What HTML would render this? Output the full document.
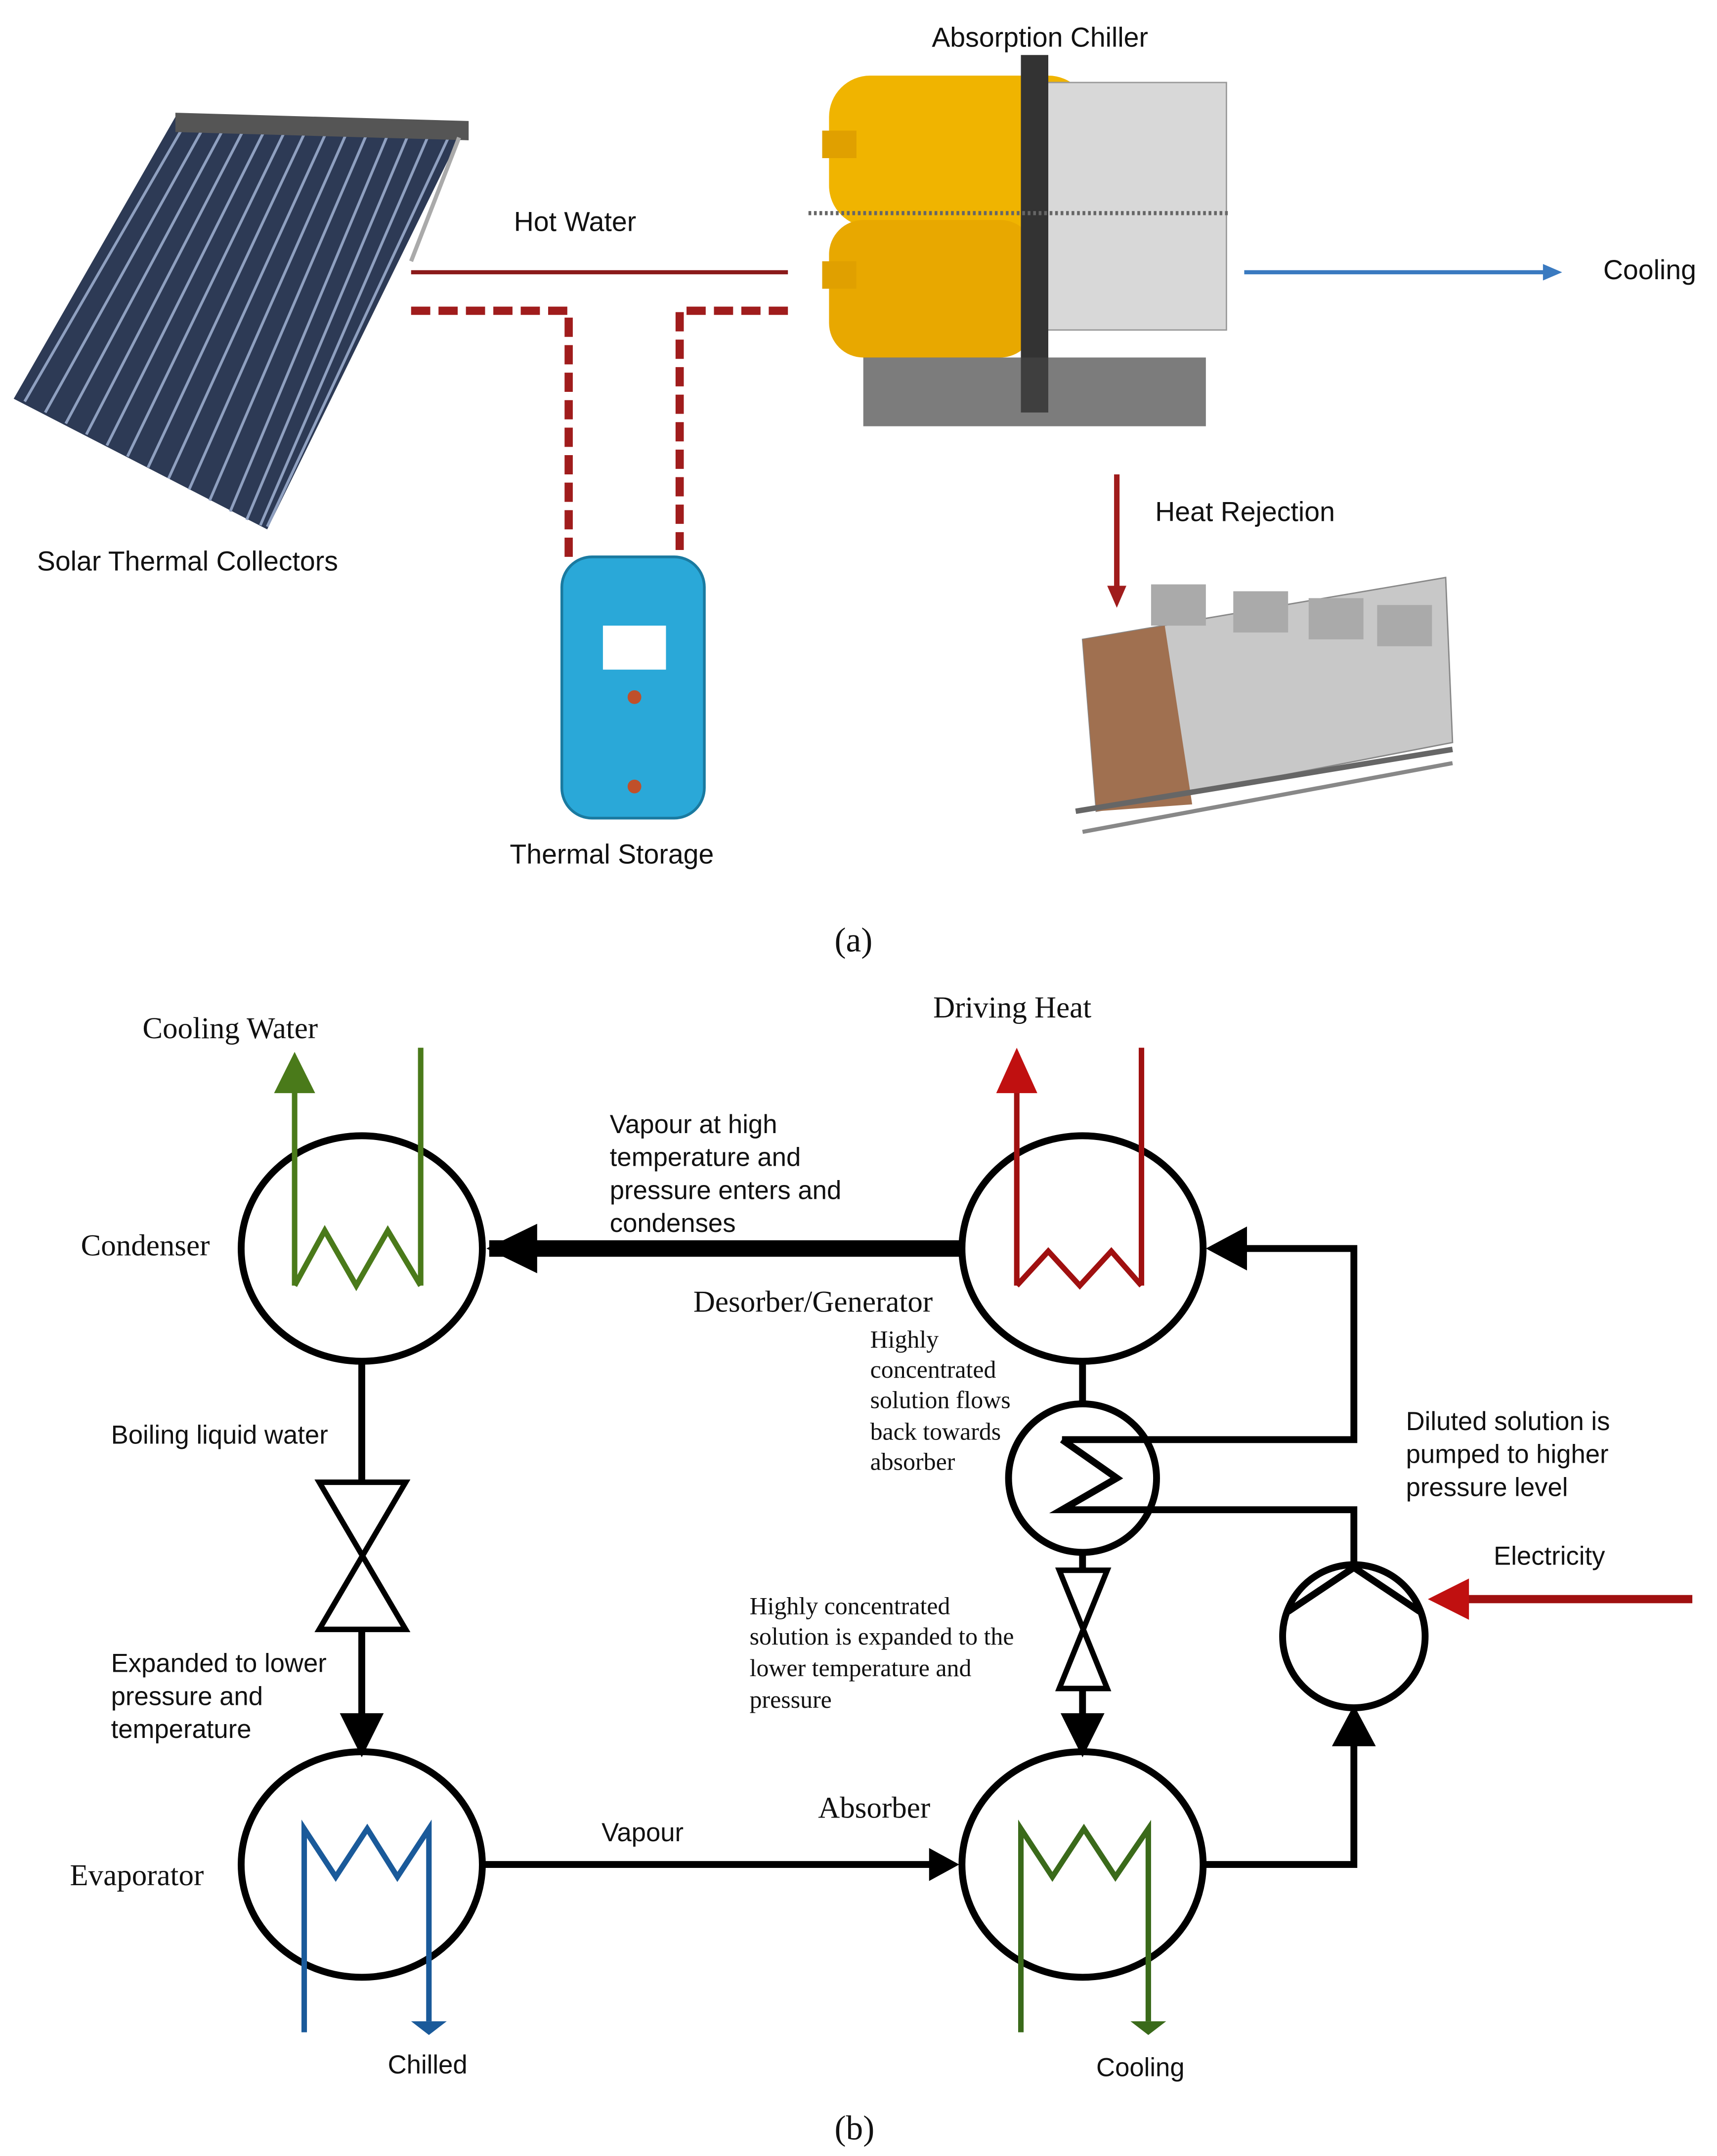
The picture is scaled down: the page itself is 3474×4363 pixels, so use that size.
<!DOCTYPE html>
<html><head><meta charset="utf-8"><style>
html,body{margin:0;padding:0;background:#fff;}
svg{display:block;}
.s{font-family:"Liberation Sans",sans-serif;fill:#111;}
.r{font-family:"Liberation Serif",serif;fill:#111;}
</style></head><body>
<svg width="3474" height="4363" viewBox="0 0 1253 1568" preserveAspectRatio="none" xmlns="http://www.w3.org/2000/svg">
<rect width="1253" height="1568" fill="#fff"/>
<!-- Solar collector -->
<polygon points="128,85 340,90 195,385 10,290" fill="#2d3a55"/>
<g stroke="#8fa0c0" stroke-width="2">
<line x1="135" y1="90" x2="18" y2="292"/><line x1="150" y1="90" x2="33" y2="300"/><line x1="165" y1="90" x2="48" y2="308"/><line x1="180" y1="90" x2="63" y2="316"/><line x1="195" y1="91" x2="78" y2="324"/><line x1="210" y1="91" x2="93" y2="332"/><line x1="225" y1="91" x2="108" y2="340"/><line x1="240" y1="92" x2="123" y2="348"/><line x1="255" y1="92" x2="138" y2="356"/><line x1="270" y1="92" x2="153" y2="364"/><line x1="285" y1="93" x2="168" y2="372"/><line x1="300" y1="93" x2="180" y2="378"/><line x1="315" y1="93" x2="190" y2="382"/><line x1="330" y1="94" x2="195" y2="383"/>
</g>
<polygon points="128,82 342,88 342,102 128,96" fill="#555"/>
<line x1="335" y1="100" x2="300" y2="190" stroke="#aaa" stroke-width="3"/>
<text class="s" x="27" y="415" font-size="20">Solar Thermal Collectors</text>
<!-- Hot water -->
<text class="s" x="375" y="168" font-size="20">Hot Water</text>
<line x1="300" y1="198" x2="575" y2="198" stroke="#8b1a1a" stroke-width="3"/>
<path d="M300,226 H415 V405" fill="none" stroke="#a01c1c" stroke-width="6" stroke-dasharray="14,6"/>
<path d="M575,226 H496 V400" fill="none" stroke="#a01c1c" stroke-width="6" stroke-dasharray="14,6"/>
<!-- Tank -->
<rect x="410" y="405" width="104" height="190" rx="22" fill="#2aa8d8" stroke="#1a7aa0" stroke-width="2"/>
<rect x="440" y="455" width="46" height="32" fill="#fff"/>
<circle cx="463" cy="507" r="5" fill="#c0502a"/><circle cx="463" cy="572" r="5" fill="#c0502a"/>
<text class="s" x="372" y="628" font-size="20">Thermal Storage</text>
<!-- Chiller -->
<text class="s" x="680" y="34" font-size="20">Absorption Chiller</text>
<rect x="605" y="55" width="190" height="110" rx="30" fill="#f0b400"/>
<rect x="605" y="160" width="150" height="100" rx="25" fill="#e8a800"/>
<rect x="760" y="60" width="135" height="180" fill="#d8d8d8" stroke="#999"/>
<rect x="745" y="40" width="20" height="260" fill="#333"/>
<rect x="630" y="260" width="250" height="50" fill="#444" opacity="0.7"/>
<rect x="600" y="95" width="25" height="20" fill="#e0a000"/><rect x="600" y="190" width="25" height="20" fill="#e0a000"/>
<line x1="590" y1="155" x2="898" y2="155" stroke="#666" stroke-width="3" stroke-dasharray="2,2"/>
<!-- Cooling arrow -->
<line x1="908" y1="198" x2="1128" y2="198" stroke="#3a7ac0" stroke-width="3"/>
<polygon points="1140,198 1126,192 1126,204" fill="#3a7ac0"/>
<text class="s" x="1170" y="203" font-size="20">Cooling</text>
<!-- Heat rejection -->
<line x1="815" y1="345" x2="815" y2="428" stroke="#a01c1c" stroke-width="4"/>
<polygon points="815,442 808,426 822,426" fill="#a01c1c"/>
<text class="s" x="843" y="379" font-size="20">Heat Rejection</text>
<!-- Dry cooler -->
<polygon points="790,465 1055,420 1060,540 800,590" fill="#c8c8c8" stroke="#888"/>
<polygon points="790,465 850,455 870,585 800,590" fill="#a07050"/>
<rect x="840" y="425" width="40" height="30" fill="#aaa"/><rect x="900" y="430" width="40" height="30" fill="#aaa"/><rect x="955" y="435" width="40" height="30" fill="#aaa"/><rect x="1005" y="440" width="40" height="30" fill="#aaa"/>
<line x1="785" y1="590" x2="1060" y2="545" stroke="#666" stroke-width="4"/>
<line x1="790" y1="605" x2="1060" y2="555" stroke="#888" stroke-width="3"/>
<text class="r" x="609" y="692" font-size="25">(a)</text>

<!-- Part b -->
<g fill="none" stroke="#000" stroke-width="5">
<ellipse cx="264" cy="908" rx="88" ry="82"/>
<ellipse cx="790" cy="908" rx="88" ry="82"/>
<ellipse cx="264" cy="1356" rx="88" ry="82"/>
<ellipse cx="790" cy="1356" rx="88" ry="82"/>
<circle cx="790" cy="1075" r="54"/>
<circle cx="988" cy="1190" r="52"/>
<path d="M940,1172 L988,1140 L1036,1172"/>
<line x1="357" y1="908" x2="702" y2="908" stroke-width="12"/>
<line x1="264" y1="990" x2="264" y2="1078"/>
<path d="M233,1078 H296 L233,1185 H296 Z" stroke-width="4"/>
<line x1="264" y1="1185" x2="264" y2="1250"/>
<line x1="352" y1="1356" x2="680" y2="1356"/>
<path d="M878,1356 H988 V1262"/>
<line x1="790" y1="990" x2="790" y2="1021"/>
<path d="M775,1047 H988 V908 H905"/>
<path d="M775,1047 L815,1075 L775,1098 H988 V1140"/>
<line x1="790" y1="1129" x2="790" y2="1142"/>
<path d="M773,1142 H808 L773,1228 H808 Z" stroke-width="4"/>
<line x1="790" y1="1228" x2="790" y2="1250"/>
</g>
<polygon points="355,908 392,890 392,926" fill="#000"/>
<polygon points="264,1278 248,1246 280,1246" fill="#000"/>
<polygon points="700,1356 678,1344 678,1368" fill="#000"/>
<polygon points="790,1278 774,1246 806,1246" fill="#000"/>
<polygon points="988,1240 972,1270 1004,1270" fill="#000"/>
<polygon points="880,908 910,892 910,924" fill="#000"/>
<!-- colored coils -->
<g fill="none" stroke-width="4">
<path d="M215,935 V790 M307,762 V935 M215,935 L237,895 L260,935 L283,895 L307,935" stroke="#4a7a1a"/>
<path d="M742,935 V790 M833,762 V935 M742,935 L765,910 L788,935 L811,910 L833,935" stroke="#a01010"/>
<path d="M222,1478 V1330 L245,1365 L268,1330 L290,1365 L313,1330 V1470" stroke="#1a5a9a"/>
<path d="M745,1478 V1330 L768,1365 L791,1330 L814,1365 L838,1330 V1470" stroke="#3a6a1a"/>
</g>
<polygon points="215,765 200,795 230,795" fill="#4a7a1a"/>
<polygon points="742,762 727,795 757,795" fill="#c01010"/>
<polygon points="300,1470 326,1470 313,1480" fill="#1a5a9a"/>
<polygon points="825,1470 851,1470 838,1480" fill="#3a6a1a"/>
<line x1="1235" y1="1163" x2="1070" y2="1163" stroke="#a01010" stroke-width="6"/>
<polygon points="1042,1163 1072,1148 1072,1178" fill="#c01010"/>
<!-- labels -->
<text class="r" x="104" y="755" font-size="22">Cooling Water</text>
<text class="r" x="681" y="740" font-size="22">Driving Heat</text>
<text class="s" x="445" y="824" font-size="19">Vapour at high</text>
<text class="s" x="445" y="848" font-size="19">temperature and</text>
<text class="s" x="445" y="872" font-size="19">pressure enters and</text>
<text class="s" x="445" y="896" font-size="19">condenses</text>
<text class="r" x="59" y="913" font-size="22">Condenser</text>
<text class="r" x="506" y="954" font-size="22">Desorber/Generator</text>
<text class="r" x="635" y="980" font-size="18">Highly</text>
<text class="r" x="635" y="1002" font-size="18">concentrated</text>
<text class="r" x="635" y="1024" font-size="18">solution  flows</text>
<text class="r" x="635" y="1047" font-size="18">back towards</text>
<text class="r" x="635" y="1069" font-size="18">absorber</text>
<text class="s" x="81" y="1050" font-size="19">Boiling liquid water</text>
<text class="s" x="1026" y="1040" font-size="19">Diluted solution is</text>
<text class="s" x="1026" y="1064" font-size="19">pumped to higher</text>
<text class="s" x="1026" y="1088" font-size="19">pressure level</text>
<text class="s" x="1090" y="1138" font-size="19">Electricity</text>
<text class="r" x="547" y="1174" font-size="18">Highly concentrated</text>
<text class="r" x="547" y="1196" font-size="18">solution is expanded to the</text>
<text class="r" x="547" y="1219" font-size="18">lower temperature and</text>
<text class="r" x="547" y="1242" font-size="18">pressure</text>
<text class="s" x="81" y="1216" font-size="19">Expanded to lower</text>
<text class="s" x="81" y="1240" font-size="19">pressure and</text>
<text class="s" x="81" y="1264" font-size="19">temperature</text>
<text class="r" x="597" y="1322" font-size="22">Absorber</text>
<text class="s" x="439" y="1339" font-size="19">Vapour</text>
<text class="r" x="51" y="1371" font-size="22">Evaporator</text>
<text class="s" x="283" y="1508" font-size="19">Chilled</text>
<text class="s" x="800" y="1510" font-size="19">Cooling</text>
<text class="r" x="609" y="1556" font-size="25">(b)</text>
</svg>
</body></html>
